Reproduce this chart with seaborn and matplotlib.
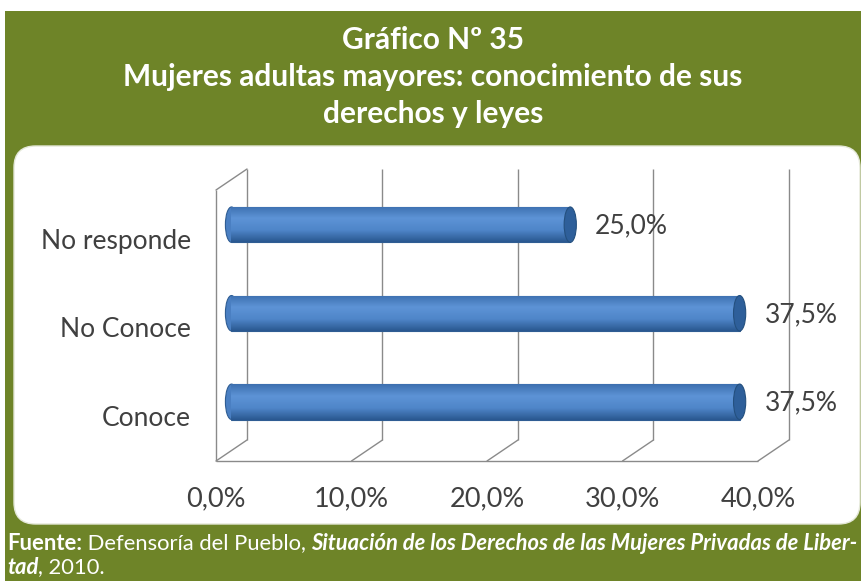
import numpy as np
import matplotlib
matplotlib.use("Agg")
import matplotlib.pyplot as plt
import matplotlib.transforms as mtransforms
from matplotlib.patches import Rectangle, FancyBboxPatch, Ellipse
from matplotlib.colors import LinearSegmentedColormap
from matplotlib.lines import Line2D
import seaborn as sns

# datos
categorias = ["No responde", "No Conoce", "Conoce"]
porcentajes = [25.0, 37.5, 37.5]
etiquetas = ["25,0%", "37,5%", "37,5%"]
ticks_x = [0, 10, 20, 30, 40]
ticks_txt = ["0,0%", "10,0%", "20,0%", "30,0%", "40,0%"]

titulo = "Gráfico Nº 35\nMujeres adultas mayores: conocimiento de sus\nderechos y leyes"

VERDE = "#6e8428"
GRIS = "#404040"
LINEA = "#8a8a8a"

sns.set_theme(style="white")
plt.rcParams["font.family"] = ["Lato", "DejaVu Sans"]

W, H = 862, 581
fig = plt.figure(figsize=(W / 100, H / 100), dpi=100)
fig.patch.set_facecolor("white")


def fx(px):
    return px / W


def fy(py):
    return 1 - py / H


# marco verde y panel blanco
fig.patches.append(Rectangle((fx(5), 0), fx(862) - fx(5), fy(11), transform=fig.transFigure,
                             facecolor=VERDE, edgecolor="none", zorder=0))
fig.patches.append(FancyBboxPatch((fx(14), fy(524)), fx(846), (524 - 146) / H,
                                  boxstyle="round,pad=0,rounding_size=0.025",
                                  mutation_aspect=W / H,
                                  transform=fig.transFigure, facecolor="white",
                                  edgecolor="#e4e8d8", linewidth=1, zorder=0.5))

fig.text(fx(433), fy(77), titulo, ha="center", va="center", color="white",
         fontsize=21.5, fontweight="bold", linespacing=1.37)

# ejes en el plano medio
ax = fig.add_axes([fx(231.5), fy(450.5), fx(773.5) - fx(231.5), 271 / H])
ax.set_zorder(2)
ax.patch.set_alpha(0)

sns.barplot(x=porcentajes, y=categorias, orient="h", color="#4a7fc2", width=0.4,
            edgecolor="#2f5d93", linewidth=0.8, ax=ax, zorder=3)

ax.set_xlim(0, 40)
ax.set_ylim(2.55, -0.51)
for s in ax.spines.values():
    s.set_visible(False)

# cilindros: degradado y tapas
cmap = LinearSegmentedColormap.from_list("cil", ["#3d70b0", "#5d93d6", "#4f86c9", "#2a5890"])
grad = np.linspace(0, 1, 64).reshape(-1, 1)
for p in list(ax.patches):
    x0, y0 = p.get_x(), p.get_y()
    w, h = p.get_width(), p.get_height()
    im = ax.imshow(grad, extent=(x0, x0 + w, y0 + h, y0), aspect="auto", cmap=cmap,
                   origin="upper", zorder=3.5)
    im.set_clip_path(p)
    ax.add_patch(Ellipse((x0, y0 + h / 2), 0.9, h, facecolor="#4a7fc2",
                         edgecolor="#2f5d93", linewidth=0.8, zorder=2.9, clip_on=False))
    ax.add_patch(Ellipse((x0 + w, y0 + h / 2), 0.9, h, facecolor="#2e5f9a",
                         edgecolor="#24507f", linewidth=0.8, zorder=4, clip_on=False))

ax.set_xlim(0, 40)
ax.set_ylim(2.55, -0.51)

# planos 3D
dpx, dpy = 15.5, 10.5
atras = mtransforms.ScaledTranslation(dpx / 100, dpy / 100, fig.dpi_scale_trans)
frente = mtransforms.ScaledTranslation(-dpx / 100, -dpy / 100, fig.dpi_scale_trans)
tx = ax.get_xaxis_transform()

ax.vlines(ticks_x, 0, 1, transform=tx + atras, color=LINEA, linewidth=1, zorder=1, clip_on=False)
ax.vlines([0], 0, 1, transform=tx + frente, color=LINEA, linewidth=1, zorder=1, clip_on=False)
ax.hlines([0], 0, 40, transform=tx + frente, color=LINEA, linewidth=1, zorder=1, clip_on=False)
for t in ticks_x:
    px, py = tx.transform((t, 0))
    fig.lines.append(Line2D([px + dpx, px - dpx], [py + dpy, py - dpy], transform=None,
                            color=LINEA, linewidth=1, zorder=2))
px, py = tx.transform((0, 1))
fig.lines.append(Line2D([px + dpx, px - dpx], [py + dpy, py - dpy], transform=None,
                        color=LINEA, linewidth=1, zorder=2))

# ejes y etiquetas
ax.set_xticks(ticks_x)
ax.set_xticklabels(ticks_txt)
ax.tick_params(axis="x", length=0, pad=18, labelsize=19.5, labelcolor=GRIS)
ax.tick_params(axis="y", length=0, pad=29, labelsize=19, labelcolor=GRIS)
for lab in ax.get_xticklabels():
    lab.set_transform(lab.get_transform() + frente)
off_y = mtransforms.ScaledTranslation(0, -0.14, fig.dpi_scale_trans)
for lab in ax.get_yticklabels():
    lab.set_transform(lab.get_transform() + off_y)
ax.set_xlabel("")
ax.set_ylabel("")

for i, (v, t) in enumerate(zip(porcentajes, etiquetas)):
    ax.annotate(t, (v, i), xytext=(18, -1), textcoords="offset points", va="center",
                ha="left", fontsize=19, color=GRIS, zorder=5)

# fuente
renderer = fig.canvas.get_renderer()
parte1 = [("Fuente:", "bold", "normal"), (" Defensoría del Pueblo, ", "normal", "normal"),
          ("Situación de los Derechos de las Mujeres Privadas de Liber-", "bold", "italic")]
parte2 = [("tad", "bold", "italic"), (", 2010.", "normal", "normal")]


def linea(partes, x, y, size):
    for txt, peso, estilo in partes:
        t = fig.text(x / W, fy(y), txt, color="white", fontsize=size, fontweight=peso,
                     fontstyle=estilo, va="center", ha="left", zorder=3)
        x += t.get_window_extent(renderer).width
    return x


# ajustar tamaño para que la primera línea ocupe el ancho del recuadro
prueba = fig.text(0, 0, "", fontsize=10)
ancho = 0
for txt, peso, estilo in parte1:
    prueba.set_text(txt)
    prueba.set_fontweight(peso)
    prueba.set_fontstyle(estilo)
    ancho += prueba.get_window_extent(renderer).width
prueba.remove()
size = 10 * (856 - 7) / ancho
linea(parte1, 7, 543, size)
linea(parte2, 7, 567, size)

fig.savefig("out.png", dpi=100)
